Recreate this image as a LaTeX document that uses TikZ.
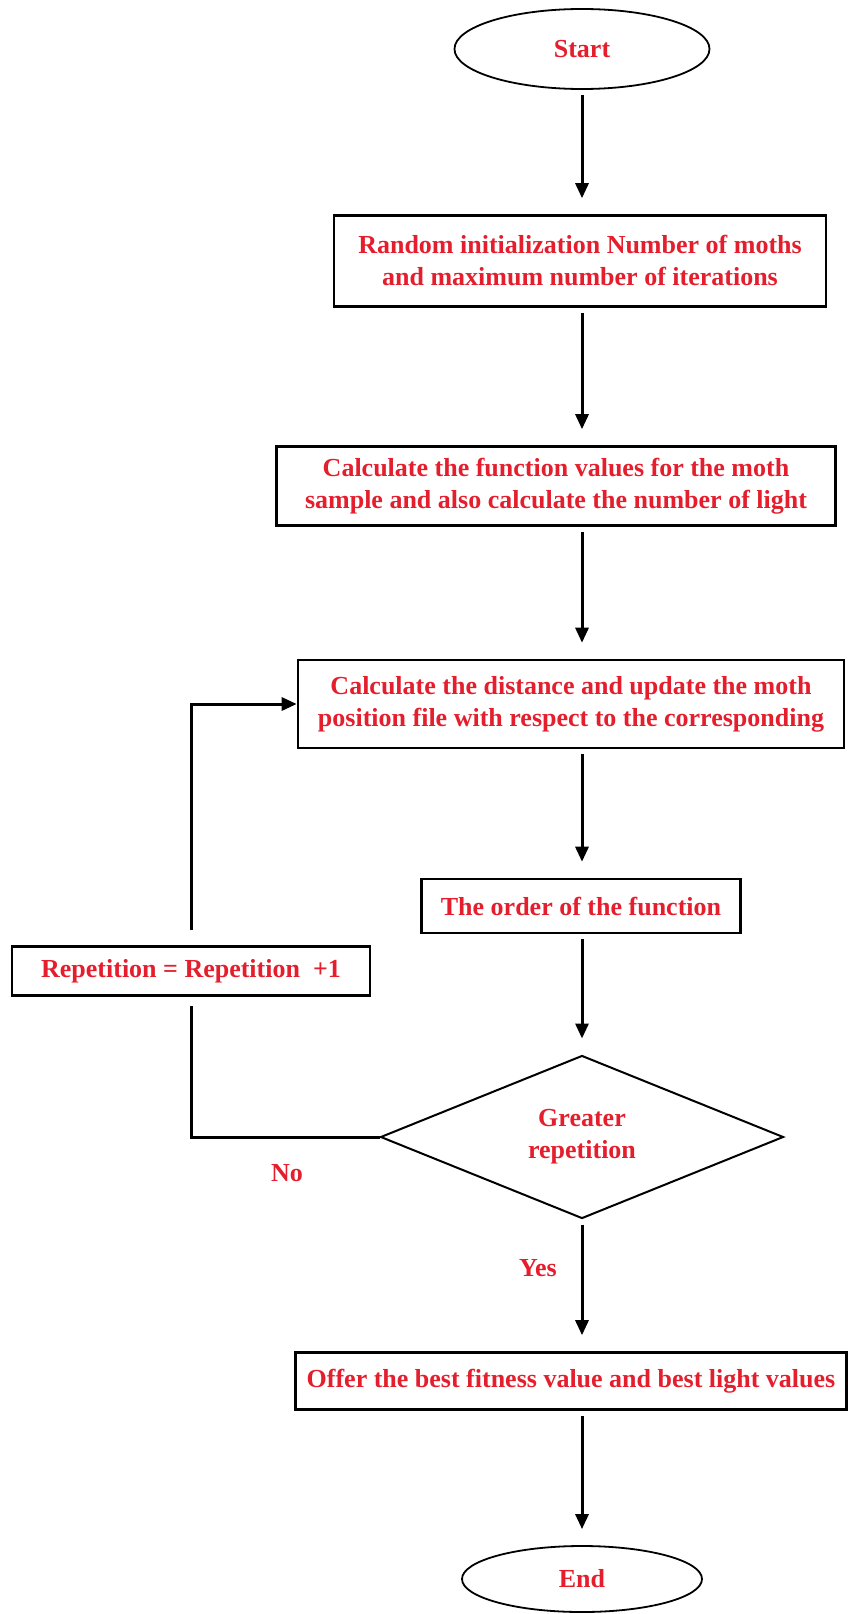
\documentclass[tikz,border=0pt]{standalone}
\usepackage{fontspec}
\setmainfont{Liberation Serif}
\usetikzlibrary{arrows.meta, shapes.geometric, positioning}
\definecolor{texto}{RGB}{228,30,45}

\begin{document}
\begin{tikzpicture}[x=1pt, y=-1pt,
    caixa/.style={draw, line width=2.6pt, rectangle, align=center, inner sep=0pt},
    oval/.style={draw, line width=1.8pt, ellipse, inner sep=0pt},
    losango/.style={draw, line width=2pt, diamond, align=center, inner sep=0pt},
    rotulo/.style={font=\fontsize{26}{32}\selectfont\bfseries, text=texto},
    seta/.style={line width=3pt, -{Triangle[width=13pt, length=15pt]}, shorten <=5pt, shorten >=16pt},
    linha/.style={line width=3pt}]
    \useasboundingbox (0,0) rectangle (856,1614);
    % main column
    \node[oval, rotulo, minimum width=255, minimum height=80] (inicio) at (582,49) {Start};
    \node[caixa, rotulo, minimum width=492, minimum height=91] (init) at (580,261)
        {Random initialization Number of moths\\and maximum number of iterations};
    \node[caixa, rotulo, minimum width=559, minimum height=79] (fitness) at (556,486)
        {Calculate the function values for the moth\\sample and also calculate the number of light};
    \node[caixa, rotulo, minimum width=546, minimum height=88] (update) at (571,704)
        {Calculate the distance and update the moth\\position file with respect to the corresponding};
    \node[caixa, rotulo, minimum width=319, minimum height=54] (ordem) at (581,906) {The order of the function};
    \node[losango, rotulo, minimum width=403, minimum height=163] (decisao) at (582,1137) {Greater\\repetition};
    \node[caixa, rotulo, minimum width=551, minimum height=57] (melhor) at (571,1381)
        {Offer the best fitness value and best light values};
    \node[oval, rotulo, minimum width=240, minimum height=66] (fim) at (582,1579) {End};
    % loop back
    \node[caixa, rotulo, minimum width=358, minimum height=49] (rep) at (191,971) {Repetition = Repetition~~+1};
    \node[rotulo] (nao) at (287,1173) {No};
    \node[rotulo] (sim) at (538,1268) {Yes};
    \foreach \a/\b in {inicio/init, init/fitness, fitness/update, update/ordem, ordem/decisao, decisao/melhor, melhor/fim}
        \draw[seta] (\a.south -| inicio) -- (\b.north -| inicio);
    \draw[linha, shorten >=9pt] (decisao.west) -| (rep.south);
    \draw[seta, shorten <=15pt, shorten >=0pt] (rep.north) |- (update.west);
\end{tikzpicture}
\end{document}
